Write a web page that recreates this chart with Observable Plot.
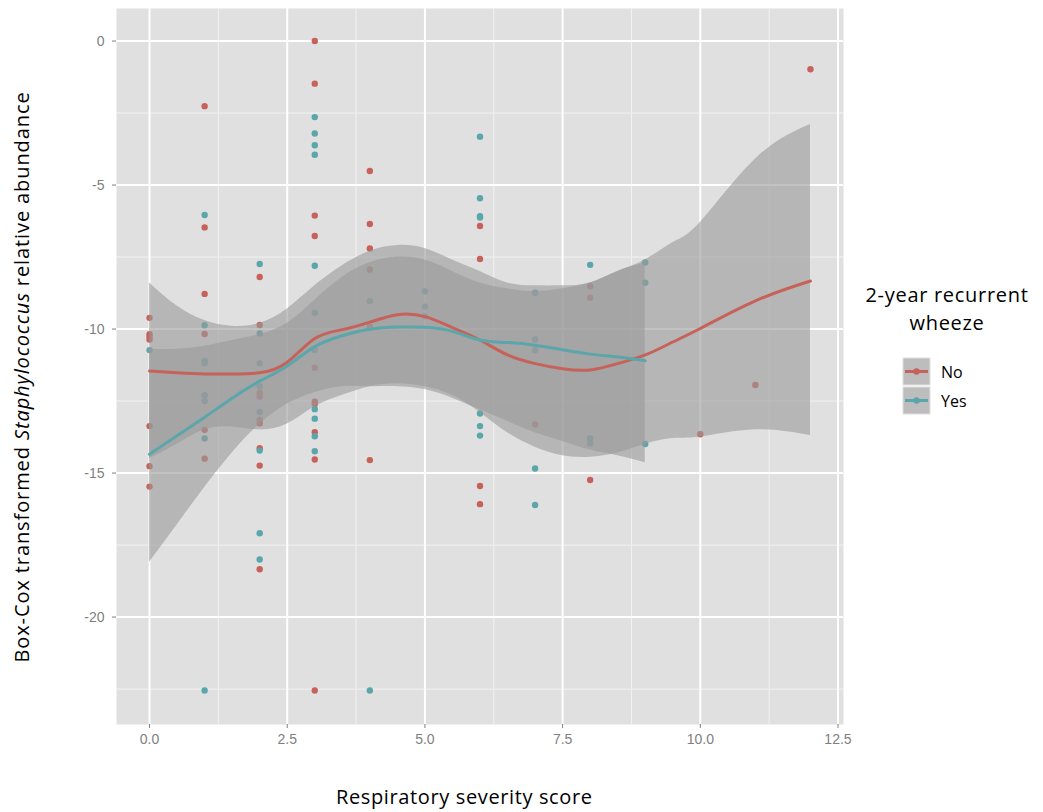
<!DOCTYPE html>
<html><head><meta charset="utf-8">
<script src="https://cdn.jsdelivr.net/npm/d3@7"></script>
<script src="https://cdn.jsdelivr.net/npm/@observablehq/plot@0.6"></script>
<style>
html,body{margin:0;padding:0;background:#fff;}
#chart{position:relative;width:1043px;height:812px;}
</style>
</head><body><div id="chart"></div>
<script>
// ---- data ----
const groups = ["No", "Yes"];
const colors = ["#c6625a", "#5ba6aa"];
const xTicks = [0, 2.5, 5, 7.5, 10, 12.5];
const yTicks = [0, -5, -10, -15, -20];

// observed points: [score, value]
const pointsNo = [
  [0,-9.61],[0,-10.18],[0,-10.27],[0,-10.36],[0,-13.37],[0,-14.76],[0,-15.47],
  [1,-2.26],[1,-6.47],[1,-8.78],[1,-10.17],[1,-13.5],[1,-14.5],
  [2,-8.19],[2,-9.86],[2,-12.21],[2,-12.35],[2,-13.16],[2,-13.27],[2,-14.14],[2,-14.74],[2,-18.34],
  [3,0],[3,-1.48],[3,-6.06],[3,-6.77],[3,-11.34],[3,-12.52],[3,-12.6],[3,-13.58],[3,-14.53],[3,-22.55],
  [4,-4.51],[4,-6.35],[4,-7.2],[4,-7.93],[4,-9.92],[4,-14.55],
  [6,-6.42],[6,-7.57],[6,-15.45],[6,-16.08],
  [7,-13.31],
  [8,-8.51],[8,-8.91],[8,-15.24],
  [10,-13.65],[11,-11.94],[12,-0.98]
];
const pointsYes = [
  [0,-10.73],
  [1,-6.04],[1,-9.87],[1,-11.11],[1,-11.19],[1,-12.3],[1,-12.5],[1,-13.8],[1,-22.55],
  [2,-7.74],[2,-10.15],[2,-11.19],[2,-11.98],[2,-12.88],[2,-14.22],[2,-17.09],[2,-18.0],
  [3,-2.64],[3,-3.21],[3,-3.62],[3,-3.95],[3,-7.8],[3,-9.43],[3,-10.73],[3,-12.78],[3,-13.11],[3,-13.72],[3,-14.24],
  [4,-9.03],[4,-22.55],
  [5,-8.69],[5,-9.22],[5,-9.55],
  [6,-3.32],[6,-5.46],[6,-6.08],[6,-6.13],[6,-12.93],[6,-13.37],[6,-13.7],
  [7,-8.74],[7,-10.36],[7,-10.73],[7,-14.84],[7,-16.11],
  [8,-7.77],[8,-13.8],[8,-13.97],
  [9,-7.69],[9,-8.39],[9,-13.99]
];

// smoothed fit: [score, fit, lower, upper]
const smoothNo = [
  [0,-11.46,-14.5,-8.4],[0.5,-11.52,-14.0,-9.2],[1,-11.56,-13.5,-9.7],[1.5,-11.56,-13.4,-9.9],
  [2,-11.52,-13.5,-9.8],[2.5,-11.15,-13.3,-9.3],[3,-10.33,-12.7,-8.5],[3.5,-10.02,-12.3,-7.8],
  [4,-9.76,-12.0,-7.3],[4.5,-9.5,-11.9,-7.1],[5,-9.57,-12.0,-7.2],[5.5,-9.95,-12.3,-7.6],
  [6,-10.38,-12.9,-8.0],[6.5,-10.9,-13.6,-8.4],[7,-11.2,-14.1,-8.5],[7.5,-11.38,-14.4,-8.5],
  [8,-11.42,-14.45,-8.4],[8.5,-11.2,-14.3,-8.0],[9,-10.9,-14.0,-7.6],[9.5,-10.45,-13.8,-7.0],
  [10,-9.98,-13.75,-6.3],[11,-9.02,-13.5,-4.1],[12,-8.33,-13.7,-2.9]
];
const smoothYes = [
  [0,-14.35,-18.1,-10.7],[0.5,-13.7,-16.8,-10.7],[1,-13.06,-15.5,-10.6],[1.5,-12.4,-14.3,-10.4],
  [2,-11.81,-13.3,-10.2],[2.5,-11.28,-12.6,-9.8],[3,-10.61,-12.2,-9.0],[3.5,-10.23,-12.0,-8.2],
  [4,-10.01,-12.0,-7.7],[4.5,-9.93,-12.0,-7.5],[5,-9.94,-12.1,-7.6],[5.5,-10.08,-12.4,-8.0],
  [6,-10.38,-12.8,-8.4],[6.5,-10.47,-13.2,-8.6],[7,-10.56,-13.6,-8.7],[7.5,-10.72,-13.9,-8.6],
  [8,-10.87,-14.2,-8.4],[8.5,-10.97,-14.4,-8.0],[9,-11.1,-14.64,-7.7]
];

// ---- build tables ----
const pts = [
  ...pointsNo.map(([x,y]) => ({x, y, g: "No"})),
  ...pointsYes.map(([x,y]) => ({x, y, g: "Yes"}))
];
const sm = [
  ...smoothNo.map(([x,f,lo,hi]) => ({x, f, lo, hi, g: "No"})),
  ...smoothYes.map(([x,f,lo,hi]) => ({x, f, lo, hi, g: "Yes"}))
];
const minorX = xTicks.slice(0,-1).map((d,i) => (d + xTicks[i+1]) / 2);
const minorY = yTicks.map(d => d - 2.5);

const plot = Plot.plot({
  width: 1043, height: 812,
  marginLeft: 116, marginRight: 200, marginTop: 8, marginBottom: 88,
  style: {background: "transparent", fontFamily: "'Liberation Sans', Arial, sans-serif", fontSize: "14px"},
  x: {domain: [-0.6, 12.6]},
  y: {domain: [-23.73, 1.13]},
  color: {domain: groups, range: colors},
  marks: [
    Plot.frame({fill: "#e0e0e0", stroke: null}),
    Plot.ruleX(minorX, {stroke: "#f2f2f2", strokeWidth: 1}),
    Plot.ruleY(minorY, {stroke: "#f2f2f2", strokeWidth: 1}),
    Plot.ruleX(xTicks, {stroke: "#fff", strokeWidth: 2}),
    Plot.ruleY(yTicks, {stroke: "#fff", strokeWidth: 2}),
    Plot.dot(pts, {x: "x", y: "y", fill: "g", r: 3.2, stroke: null}),
    Plot.areaY(sm, {x: "x", y1: "lo", y2: "hi", z: "g", fill: "#999999", fillOpacity: 0.6, curve: "natural"}),
    Plot.line(sm, {x: "x", y: "f", z: "g", stroke: "g", strokeWidth: 3, curve: "natural"}),
    Plot.axisX({ticks: xTicks, tickFormat: d3.format(".1f"), tickSize: 4, tickPadding: 6, stroke: "#7f7f7f", color: "#7f7f7f", label: null, fontSize: 14}),
    Plot.axisY({ticks: yTicks, tickFormat: d => d === 0 ? "0" : String(d), tickSize: 4, tickPadding: 8, stroke: "#7f7f7f", color: "#7f7f7f", label: null, fontSize: 14})
  ]
});
document.getElementById("chart").appendChild(plot);

// ---- titles and legend ----
const svg = d3.select(plot);
const titleFont = "'Open Sans', Lato, sans-serif";
svg.append("text").attr("x", 464).attr("y", 804).attr("text-anchor", "middle")
  .attr("font-family", titleFont).attr("font-size", 20).attr("fill", "#000")
  .attr("textLength", 256).attr("lengthAdjust", "spacing")
  .text("Respiratory severity score");
const yt = svg.append("text").attr("transform", "translate(29,377) rotate(-90)").attr("text-anchor", "middle")
  .attr("font-family", titleFont).attr("font-size", 20).attr("fill", "#000")
  .attr("letter-spacing", "0.9px");
yt.append("tspan").text("Box-Cox transformed ");
yt.append("tspan").attr("font-style", "italic").text("Staphylococcus");
yt.append("tspan").text(" relative abundance");

const lg = svg.append("g").attr("font-family", titleFont).attr("text-anchor", "start").attr("fill", "#000");
lg.append("text").attr("x", 947).attr("y", 302).attr("text-anchor", "middle").attr("font-size", 20)
  .attr("letter-spacing", "0.7px").text("2-year recurrent");
lg.append("text").attr("x", 947).attr("y", 330).attr("text-anchor", "middle").attr("font-size", 20)
  .attr("letter-spacing", "0.7px").text("wheeze");
groups.forEach((g, i) => {
  const y0 = 358 + i * 29;
  lg.append("rect").attr("x", 903).attr("y", y0).attr("width", 27).attr("height", 27)
    .attr("fill", "#bdbdbd").attr("stroke", "#e0e0e0").attr("stroke-width", 1);
  lg.append("line").attr("x1", 905).attr("x2", 928).attr("y1", y0 + 13.5).attr("y2", y0 + 13.5)
    .attr("stroke", colors[i]).attr("stroke-width", 3);
  lg.append("circle").attr("cx", 916.5).attr("cy", y0 + 13.5).attr("r", 3.2).attr("fill", colors[i]);
  lg.append("text").attr("x", 941).attr("y", y0 + 20).attr("text-anchor", "start").attr("font-size", 16).text(g);
});
</script></body></html>
